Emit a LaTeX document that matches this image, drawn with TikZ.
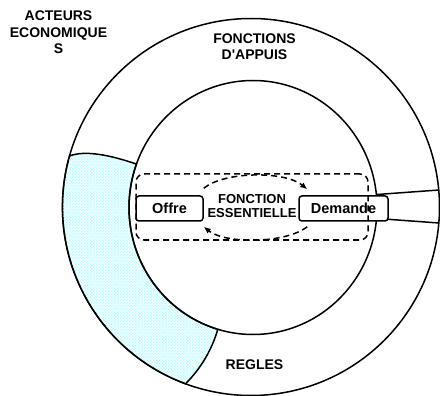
\documentclass[tikz,border=0pt]{standalone}
\usepackage{fontspec}
\newfontfamily\lab{Liberation Sans}
\usetikzlibrary{arrows.meta,patterns.meta}
\definecolor{chk}{RGB}{170,255,255}
\tikzdeclarepattern{name=finechk,type=uncolored,
  bottom left={(0pt,0pt)},top right={(2.8pt,2.8pt)},tile size={(2.8pt,2.8pt)},
  code={\fill (0pt,0pt) rectangle (1.4pt,1.4pt); \fill (1.4pt,1.4pt) rectangle (2.8pt,2.8pt);}}
\begin{document}
\begin{tikzpicture}[x=1pt,y=1pt,line width=1.5pt,
  lbl/.style={font=\lab\bfseries\fontsize{14}{16.5}\selectfont,align=center,inner sep=0},
  boxn/.style={draw,rounded corners=3pt,fill=white,inner sep=0,minimum height=25pt,
    font=\lab\bfseries\fontsize{14.5}{16}\selectfont},
  dsh/.style={dash pattern=on 6pt off 4pt},
  tip/.style={-{Latex[length=7pt,width=6pt]}}]
\useasboundingbox (0,0) rectangle (440,-396);
\coordinate (oc) at (251,-207);
\coordinate (ic) at (253,-207.5);
% outer ring
\draw (oc) circle[radius=188.5pt];
% shaded band
\draw[pattern=finechk,pattern color=chk]
  (69.5,-156) arc[start angle=164.3,end angle=249.7,radius=188.5pt]
  .. controls (200.9,-368.3) and (211.7,-350.2) .. (217.8,-329.3)
  arc[start angle=253.5,end angle=160,x radius=124pt,y radius=127pt]
  .. controls (110,-155) and (85,-150) .. cycle;
% inner ring
\draw (ic) ellipse[x radius=124pt,y radius=127pt];
% wedge
\coordinate (wt1) at (377,-194.5);
\coordinate (wt2) at (439,-190);
\coordinate (wb1) at (377,-218.5);
\coordinate (wb2) at (439,-223);
\draw (wt1) -- (wt2);
\draw (wb1) -- (wb2);
% boxes
\node[boxn,minimum width=67pt] (offre) at (169.5,-208.5) {Offre};
\node[boxn,minimum width=89pt] (demande) at (343.5,-208.5) {Demande};
% dashed frame
\node[draw,dsh,rounded corners=8pt,minimum width=232pt,minimum height=66pt,inner sep=0] (ess) at (252,-207) {};
% arrows
\draw[dsh,tip] ([yshift=7pt]offre.north east) .. controls (225,-171) and (285,-171) .. ([xshift=9pt,yshift=6pt]demande.north west);
\draw[dsh,tip] ([xshift=9pt,yshift=-5pt]demande.south west) .. controls (285,-244) and (225,-244) .. ([yshift=-5pt]offre.south east);
% labels
\node[lbl,font=\lab\bfseries\fontsize{13}{14}\selectfont] (fe) at (252,-206) {FONCTION\\ESSENTIELLE};
\node[lbl,anchor=north] (acteurs) at (58.5,-10) {ACTEURS\\ECONOMIQUE\\S};
\node[lbl,anchor=north] (appuis) at (254.5,-32.5) {FONCTIONS\\D'APPUIS};
\node[lbl] (regles) at (254.5,-364.5) {REGLES};
\end{tikzpicture}
\end{document}
